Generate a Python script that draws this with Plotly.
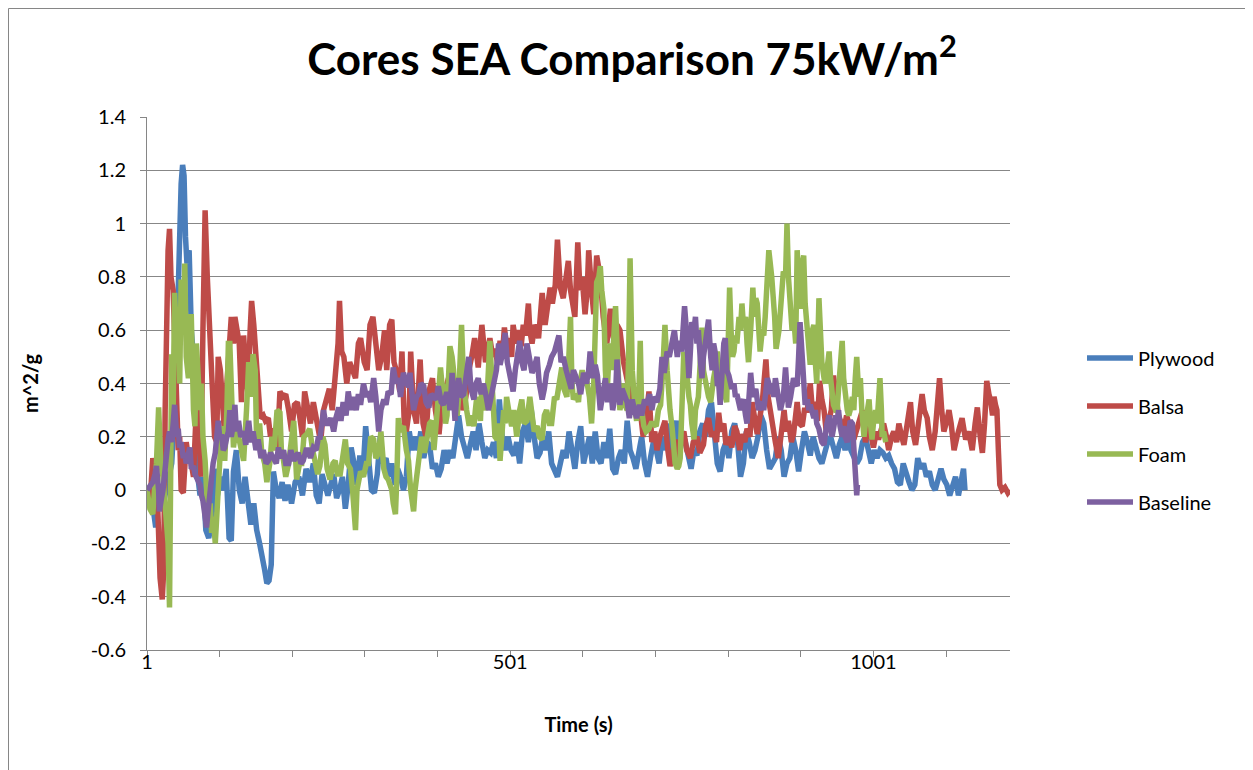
import plotly.graph_objects as go

# ---- data: (time index, SEA value m^2/g) ----
plywood = [(1,0.0),(5,-0.02),(10,-0.08),(13,-0.14),(16,-0.05),(20,0.02),(25,-0.03),(30,0.05),(35,0.1),(40,0.35),(44,0.75),(46,1.05),(48,1.15),(50,1.22),(52,1.18),(54,0.95),(56,0.85),(59,0.9),(62,0.6),(65,0.5),(68,0.2),(71,0.05),(74,-0.02),(78,0.05),(82,-0.15),(86,-0.18),(90,-0.12),(94,0.08),(98,-0.02),(102,0.05),(106,0.0),(110,0.08),(114,-0.18),(117,-0.19),(120,0.07),(124,0.15),(128,0.0),(132,-0.05),(136,0.05),(140,-0.03),(144,-0.13),(148,-0.05),(152,-0.15),(156,-0.2),(160,-0.25),(163,-0.3),(166,-0.35),(169,-0.34),(172,-0.28),(175,0.07),(179,0.0),(183,-0.03),(187,0.03),(191,-0.04),(195,0.02),(200,-0.05),(205,0.03),(210,0.05),(215,-0.02),(220,0.08),(225,0.03),(230,0.1),(234,-0.02),(238,-0.05),(242,0.06),(246,0.02),
(250,-0.02),(254,0.02),(258,0.06),(262,-0.03),(266,0.0),(270,0.05),(274,-0.07),(278,0.02),(282,0.16),(286,0.1),(290,0.02),(294,0.13),(298,0.05),(302,0.24),(306,0.12),(310,0.0),(314,-0.01),(318,0.06),(322,0.2),(326,0.1),(330,0.12),(334,0.05),(338,0.1),(342,0.02),(346,0.08),(350,0.05),(354,0.0),(358,0.05),(362,0.22),
(366,0.15),(370,0.2),(374,0.15),(378,0.22),(382,0.12),(386,0.18),(390,0.17),(394,0.08),(398,0.1),(402,0.05),(406,0.08),(410,0.15),(414,0.1),(418,0.15),(422,0.12),(426,0.2),(430,0.28),(434,0.2),(438,0.15),(442,0.12),(446,0.17),(450,0.22),(454,0.15),(458,0.25),(462,0.18),(466,0.12),(470,0.15),(474,0.14),(478,0.18),(482,0.12),(486,0.34),(490,0.2),(494,0.15),
(498,0.2),(502,0.15),(506,0.13),(510,0.18),(514,0.1),(518,0.22),(522,0.25),(526,0.18),(530,0.3),(534,0.2),(538,0.12),(542,0.14),(546,0.2),(550,0.15),(554,0.22),(558,0.1),(562,0.07),(566,0.05),(570,0.1),(574,0.15),(578,0.12),(582,0.22),(586,0.15),(590,0.08),(594,0.18),(598,0.24),(602,0.1),(606,0.15),(610,0.2),
(614,0.1),(618,0.22),(622,0.12),(626,0.1),(630,0.18),(634,0.12),(638,0.23),(642,0.08),(646,0.06),(650,0.12),(654,0.15),(658,0.1),(662,0.26),(666,0.15),(670,0.12),(674,0.08),(678,0.14),(682,0.2),(686,0.1),(690,0.05),(694,0.12),(698,0.18),(702,0.15),(706,0.1),(710,0.2),(714,0.15),(718,0.25),(722,0.15),(726,0.2),(730,0.26),(734,0.15),
(738,0.22),(742,0.18),(746,0.12),(750,0.08),(754,0.15),(758,0.13),(762,0.22),(766,0.25),(770,0.2),(774,0.3),(778,0.33),(782,0.22),(786,0.1),(790,0.07),(794,0.15),(798,0.18),(802,0.12),(806,0.22),(810,0.25),(814,0.18),(818,0.05),(822,0.1),(826,0.22),(830,0.18),(834,0.12),(838,0.15),(842,0.2),(846,0.28),(850,0.25),(854,0.15),(858,0.08),
(862,0.1),(866,0.12),(870,0.2),(874,0.15),(878,0.05),(882,0.1),(886,0.12),(890,0.2),(894,0.15),(898,0.07),(902,0.15),(906,0.22),(910,0.18),(914,0.13),(918,0.2),(922,0.16),(926,0.12),(930,0.1),(934,0.15),(938,0.18),(942,0.2),(946,0.15),(950,0.12),(954,0.17),(958,0.2),(962,0.15),(966,0.2),(970,0.15),(974,0.12),(978,0.1),
(982,0.12),(986,0.18),(990,0.2),(994,0.15),(998,0.1),(1002,0.15),(1006,0.12),(1010,0.15),(1014,0.14),(1018,0.12),(1022,0.13),(1026,0.1),(1030,0.08),(1034,0.03),(1038,0.02),(1042,0.1),(1046,0.06),(1050,0.03),(1054,0.0),(1058,0.02),(1062,0.12),(1066,0.08),(1070,0.1),(1074,0.05),(1078,0.07),(1082,0.02),(1086,0.0),(1090,0.05),(1094,0.08),(1098,0.04),(1102,0.02),(1106,-0.02),(1110,0.01),(1114,0.05),(1118,-0.02),(1122,0.03),(1125,0.08),(1127,0.0)]

balsa = [(1,0.0),(5,-0.05),(9,0.12),(12,0.05),(14,0.08),(17,-0.2),(19,-0.33),(22,-0.41),(24,-0.3),(26,0.3),(28,0.76),(30,0.9),(32,0.98),(34,0.8),(37,0.75),(39,0.55),(41,0.35),(44,0.15),(46,0.2),(48,0.0),(51,-0.01),(55,0.18),(58,0.12),(62,0.1),(65,0.05),(68,0.25),(72,0.3),(75,0.05),(78,0.6),(81,1.05),(84,0.8),(87,0.61),(90,0.4),(92,0.35),(94,0.2),(97,0.18),(99,0.5),(102,0.45),(104,0.35),(106,0.3),(108,0.2),(111,0.4),(114,0.55),(117,0.65),
(120,0.55),(122,0.65),(125,0.6),(128,0.55),(131,0.33),(134,0.58),(137,0.45),(140,0.36),(143,0.6),(145,0.71),(148,0.62),(151,0.5),(154,0.32),(157,0.27),(161,0.28),(164,0.26),(168,0.27),(171,0.2),(175,0.23),(178,0.15),(181,0.2),(184,0.37),(188,0.35),(192,0.36),(196,0.3),(200,0.22),(204,0.32),(208,0.33),(211,0.28),(215,0.2),(218,0.37),(222,0.3),(226,0.25),(230,0.33),(234,0.27),(237,0.22),
(240,0.18),(244,0.3),(248,0.35),(252,0.38),(256,0.3),(260,0.45),(264,0.55),(266,0.71),(269,0.52),(272,0.5),(276,0.4),(280,0.48),(284,0.45),(288,0.42),(292,0.55),(295,0.57),(300,0.48),(304,0.45),(308,0.62),(312,0.65),(316,0.55),(320,0.45),(324,0.5),(328,0.6),(331,0.45),(335,0.62),(338,0.64),(341,0.48),(345,0.44),(349,0.37),(352,0.52),(355,0.26),(358,0.22),(362,0.3),
(364,0.52),(368,0.3),(372,0.25),(377,0.49),(381,0.25),(385,0.2),(389,0.37),(394,0.42),(398,0.3),(403,0.21),(407,0.33),(411,0.37),(416,0.42),(420,0.35),(426,0.36),(431,0.4),(436,0.3),(440,0.35),(444,0.45),(448,0.5),(452,0.57),(457,0.46),(462,0.62),(467,0.48),(473,0.57),(477,0.5),(480,0.53),(484,0.47),(487,0.56),(490,0.5),(493,0.61),
(497,0.52),(500,0.57),(503,0.5),(505,0.62),(509,0.55),(512,0.6),(516,0.54),(519,0.62),(522,0.58),(526,0.7),(528,0.6),(531,0.55),(535,0.62),(538,0.6),(540,0.57),(545,0.74),(549,0.62),(552,0.68),(556,0.76),(559,0.7),(563,0.77),(566,0.94),(570,0.76),(574,0.72),(577,0.78),(581,0.86),(584,0.75),(586,0.71),(590,0.65),(594,0.93),(597,0.75),(600,0.8),(604,0.66),(607,0.75),(609,0.9),(613,0.75),
(616,0.66),(620,0.88),(625,0.8),(629,0.65),(634,0.55),(639,0.68),(643,0.57),(648,0.62),(652,0.6),(657,0.48),(662,0.42),(666,0.36),(670,0.3),(673,0.33),(677,0.27),(680,0.3),(684,0.2),(687,0.25),(692,0.37),(696,0.18),(700,0.22),(703,0.15),(707,0.2),(710,0.22),(714,0.26),(718,0.15),(721,0.09),(725,0.14),(728,0.19),(731,0.12),(735,0.17),
(740,0.22),(744,0.15),(749,0.12),(753,0.18),(758,0.2),(762,0.14),(767,0.17),(770,0.24),(774,0.27),(778,0.2),(781,0.22),(785,0.18),(788,0.29),(791,0.22),(795,0.25),(798,0.17),(802,0.2),(806,0.16),(810,0.24),(813,0.22),(817,0.15),(820,0.21),(824,0.18),(827,0.23),(831,0.2),(834,0.33),(838,0.25),(841,0.21),(845,0.28),(848,0.33),(853,0.49),(856,0.35),(859,0.3),(863,0.22),(866,0.18),
(870,0.12),(874,0.2),(878,0.3),(881,0.22),(884,0.26),(888,0.18),(891,0.21),(896,0.33),(899,0.25),(903,0.24),(906,0.3),(910,0.3),(914,0.4),(917,0.3),(921,0.33),(924,0.26),(927,0.41),(930,0.34),(933,0.3),(936,0.22),(939,0.26),(943,0.3),(946,0.43),(950,0.32),(953,0.28),(957,0.25),(960,0.22),(964,0.28),(967,0.26),(971,0.22),(974,0.19),(978,0.23),(981,0.26),(986,0.3),
(990,0.18),(995,0.25),(998,0.2),(1001,0.16),(1005,0.22),(1008,0.19),(1012,0.23),(1015,0.25),(1019,0.2),(1022,0.15),(1026,0.2),(1029,0.22),(1033,0.18),(1036,0.25),(1040,0.2),(1043,0.17),(1047,0.24),(1052,0.33),(1055,0.22),(1059,0.17),(1063,0.25),(1068,0.36),(1071,0.3),(1075,0.27),(1078,0.2),(1082,0.15),(1086,0.22),(1089,0.3),(1092,0.42),(1095,0.3),(1098,0.22),(1102,0.26),(1105,0.3),(1108,0.25),(1112,0.15),
(1116,0.2),(1120,0.25),(1123,0.27),(1126,0.22),(1128,0.19),(1132,0.22),(1135,0.18),(1137,0.15),(1141,0.25),(1144,0.31),(1148,0.2),(1151,0.14),(1154,0.25),(1157,0.41),(1160,0.36),(1162,0.34),(1165,0.28),(1167,0.35),(1169,0.32),(1171,0.3),(1173,0.15),(1175,0.02),(1178,0.0),(1182,0.01),(1186,-0.01),(1189,0.0)]

foam = [(1,0.0),(5,-0.07),(9,-0.09),(14,0.1),(17,0.31),(20,0.1),(23,0.05),(28,-0.1),(30,-0.2),(32,-0.44),(35,0.51),(37,0.3),(39,0.74),(42,0.55),(44,0.67),(46,0.4),(48,0.79),(51,0.6),(53,0.85),(55,0.5),(58,0.42),(60,0.65),(62,0.65),(65,0.3),(67,0.24),(69,0.55),(72,0.4),(74,0.3),(76,0.4),(78,0.2),(81,0.11),(83,-0.05),(85,-0.11),(88,-0.05),(90,-0.16),(92,-0.1),(95,-0.2),(97,-0.1),(99,0.05),(101,0.1),(104,0.24),(106,0.15),(108,0.11),(111,0.3),(113,0.55),(115,0.55),(118,0.3),(120,0.16),
(124,0.24),(129,0.17),(134,0.11),(138,0.3),(141,0.48),(144,0.35),(147,0.51),(150,0.45),(152,0.17),(156,0.25),(159,0.14),(163,0.1),(166,0.03),(170,0.1),(173,0.2),(176,0.15),(180,0.3),(184,0.29),(186,0.15),(189,0.11),(192,0.05),(196,0.1),(199,0.18),(203,0.26),(207,0.04),(211,0.1),(214,0.1),(217,0.2),(221,0.21),(225,0.23),(229,0.15),(232,0.11),(236,0.06),(239,0.09),(243,0.2),(246,0.17),
(249,0.08),(253,0.04),(257,0.1),(260,0.11),(263,0.06),(267,0.06),(271,0.12),(274,0.19),(277,0.1),(281,0.08),(284,0.0),(288,-0.15),(290,0.0),(292,0.03),(295,0.07),(299,0.05),(303,0.1),(306,0.1),(309,0.2),(313,0.19),(316,0.12),(320,0.14),(323,0.22),(327,0.08),(330,0.05),(333,0.04),(338,0.0),(340,-0.05),(343,-0.09),(345,0.05),(347,0.27),(350,0.22),(354,0.24),(358,0.15),(361,0.11),(364,0.0),(368,-0.08),
(370,0.0),(372,0.05),(376,0.15),(379,0.2),(383,0.14),(386,0.19),(390,0.25),(393,0.26),(396,0.15),(400,0.28),(402,0.35),(405,0.46),(407,0.4),(409,0.39),(412,0.25),(414,0.28),(416,0.42),(418,0.54),(421,0.5),(423,0.45),(425,0.3),(428,0.28),(430,0.35),(432,0.5),(434,0.62),(437,0.4),(439,0.34),(441,0.3),(444,0.25),(446,0.25),(448,0.28),(451,0.24),(453,0.3),(455,0.35),(457,0.32),(460,0.26),(462,0.4),(464,0.33),(467,0.3),(469,0.34),(471,0.45),(473,0.56),(476,0.4),(478,0.28),(480,0.2),(483,0.19),(485,0.25),(487,0.11),
(490,0.2),(492,0.3),(494,0.25),(496,0.35),(500,0.28),(503,0.24),(506,0.3),(510,0.2),(514,0.3),(517,0.34),(520,0.25),(524,0.26),(528,0.35),(531,0.3),(534,0.22),(538,0.24),(541,0.2),(545,0.19),(548,0.28),(551,0.3),(555,0.25),(558,0.25),(562,0.35),(565,0.34),(569,0.42),(572,0.46),(575,0.38),(579,0.35),(581,0.45),(584,0.65),(586,0.4),(588,0.34),(592,0.36),(595,0.33),(597,0.4),(600,0.45),(603,0.4),(607,0.4),(610,0.35),(613,0.25),
(616,0.4),(618,0.6),(620,0.78),(623,0.8),(625,0.84),(627,0.75),(630,0.68),(632,0.45),(634,0.35),(636,0.45),(639,0.55),(641,0.45),(643,0.55),(646,0.69),(648,0.55),(650,0.33),(652,0.3),(655,0.35),(657,0.4),(659,0.32),(662,0.3),(664,0.5),(666,0.87),(669,0.45),(671,0.33),(673,0.3),(675,0.26),(678,0.35),(680,0.56),(682,0.3),(685,0.24),(688,0.22),(692,0.23),(695,0.25),(698,0.25),(702,0.24),(705,0.3),(708,0.32),(711,0.45),(714,0.62),(717,0.45),(719,0.36),(721,0.3),(724,0.23),(726,0.15),(728,0.1),(731,0.08),(733,0.09),(735,0.12),
(738,0.3),(740,0.52),(742,0.4),(744,0.44),(747,0.35),(749,0.32),(751,0.25),(754,0.19),(756,0.3),(758,0.32),(760,0.35),(763,0.5),(765,0.61),(767,0.45),(770,0.4),(772,0.37),(774,0.35),(777,0.33),(779,0.4),(781,0.42),(783,0.45),(786,0.52),(788,0.45),(790,0.42),(793,0.48),(795,0.4),(797,0.35),(799,0.33),(802,0.55),(803,0.76),(805,0.6),(807,0.5),(809,0.52),(811,0.58),(813,0.55),(816,0.65),(818,0.6),(820,0.7),(822,0.62),(825,0.65),(827,0.55),(829,0.48),(832,0.6),(834,0.68),(835,0.76),(837,0.65),(839,0.72),(841,0.7),(843,0.6),(845,0.52),(848,0.6),(850,0.58),(852,0.65),(855,0.8),(857,0.9),(859,0.85),
(861,0.8),(865,0.65),(867,0.53),(871,0.6),(873,0.7),(875,0.78),(877,0.82),(880,0.8),(882,1.0),(884,0.8),(887,0.7),(889,0.6),(891,0.66),(894,0.55),(896,0.9),(898,0.75),(900,0.68),(903,0.85),(905,0.88),(907,0.7),(910,0.62),(912,0.55),(914,0.47),(917,0.6),(919,0.62),(921,0.48),(923,0.4),(926,0.72),(928,0.5),(930,0.48),(933,0.42),(935,0.4),(937,0.45),(940,0.52),(942,0.42),(944,0.35),(946,0.32),(949,0.3),(951,0.3),(953,0.38),(955,0.45),(958,0.56),(960,0.42),(962,0.36),(965,0.3),(967,0.28),(969,0.3),(972,0.35),(974,0.3),(976,0.42),(978,0.5),(981,0.35),(983,0.42),
(985,0.3),(988,0.2),(990,0.25),(992,0.3),(995,0.34),(997,0.25),(999,0.19),(1001,0.25),(1004,0.3),(1006,0.25),(1008,0.35),(1010,0.42),(1012,0.3),(1013,0.2),(1015,0.22),(1018,0.18)]

baseline = [(1,0.0),(5,0.02),(9,0.03),(12,0.06),(14,0.09),(17,0.0),(18,-0.08),(21,-0.03),(23,0.0),(26,0.08),(28,0.15),(30,0.19),(32,0.22),(35,0.18),(37,0.25),(39,0.32),(42,0.2),(44,0.23),(46,0.16),(48,0.18),(51,0.12),(53,0.14),(55,0.1),(58,0.13),(60,0.16),(62,0.08),(65,0.09),(67,0.06),(69,0.05),(72,0.04),(74,0.02),(76,-0.02),(78,-0.04),(81,-0.1),(83,-0.14),(85,-0.08),(88,0.01),(90,0.05),(92,0.1),(95,0.14),(97,0.2),(99,0.26),(101,0.2),(104,0.2),(106,0.15),(108,0.16),(111,0.2),(113,0.22),(115,0.3),(117,0.2),
(120,0.25),(122,0.32),(124,0.22),(127,0.26),(130,0.2),(134,0.22),(137,0.17),(141,0.26),(144,0.18),(147,0.22),(151,0.15),(154,0.19),(158,0.12),(161,0.15),(165,0.1),(168,0.11),(171,0.14),(175,0.12),(179,0.1),(182,0.16),(185,0.12),(189,0.15),(192,0.1),(196,0.1),(199,0.15),(203,0.11),(206,0.13),(209,0.14),(213,0.1),(216,0.11),(220,0.15),(223,0.15),(226,0.12),(230,0.16),(234,0.15),(237,0.2),(239,0.19),
(242,0.25),(244,0.3),(247,0.25),(251,0.25),(254,0.27),(258,0.22),(261,0.27),(265,0.31),(268,0.26),(271,0.33),(275,0.28),(278,0.37),(282,0.3),(285,0.35),(289,0.3),(292,0.36),(295,0.32),(299,0.4),(303,0.35),(306,0.37),(309,0.33),(313,0.42),(316,0.35),(320,0.22),(323,0.3),(327,0.34),(330,0.32),(333,0.37),(337,0.36),(340,0.46),(344,0.4),(347,0.42),(350,0.35),(354,0.44),(358,0.4),(361,0.39),(363,0.44),
(366,0.35),(368,0.3),(372,0.35),(375,0.36),(378,0.4),(382,0.39),(385,0.33),(389,0.31),(392,0.36),(395,0.35),(399,0.34),(402,0.39),(406,0.33),(409,0.32),(413,0.36),(416,0.36),(418,0.3),(421,0.44),(423,0.35),(425,0.26),(428,0.38),(430,0.42),(433,0.35),(437,0.36),(440,0.42),(444,0.5),(447,0.38),(451,0.34),(454,0.4),(457,0.42),(461,0.36),(464,0.4),(468,0.35),(471,0.3),(474,0.34),(478,0.4),(482,0.45),(485,0.55),(487,0.47),
(491,0.52),(494,0.59),(497,0.48),(501,0.42),(505,0.37),(508,0.45),(511,0.5),(514,0.56),(517,0.48),(520,0.45),(524,0.55),(528,0.48),(531,0.44),(534,0.46),(538,0.5),(541,0.4),(545,0.34),(548,0.38),(551,0.44),(555,0.47),(558,0.5),(562,0.52),(565,0.55),(568,0.58),(571,0.48),(574,0.5),(578,0.45),(581,0.42),(585,0.38),(588,0.45),(592,0.42),(595,0.4),(598,0.36),(602,0.44),(606,0.4),(609,0.45),(611,0.52),
(615,0.42),(618,0.47),(621,0.43),(625,0.3),(629,0.38),(632,0.42),(635,0.33),(639,0.4),(642,0.3),(646,0.36),(648,0.49),(652,0.32),(655,0.38),(658,0.36),(662,0.33),(665,0.27),(669,0.34),(672,0.3),(675,0.27),(679,0.32),(682,0.28),(686,0.34),(689,0.32),(693,0.36),(696,0.3),(699,0.35),(703,0.33),(707,0.38),(710,0.5),(713,0.44),(717,0.52),(720,0.5),(724,0.55),(727,0.6),(731,0.5),(734,0.56),(737,0.52),(741,0.69),
(743,0.62),(745,0.48),(747,0.42),(749,0.52),(751,0.63),(754,0.6),(756,0.65),(758,0.55),(760,0.6),(763,0.48),(765,0.42),(767,0.5),(770,0.55),(772,0.58),(774,0.64),(777,0.5),(779,0.45),(781,0.55),(783,0.52),(786,0.4),(788,0.4),(790,0.32),(793,0.48),(795,0.55),(797,0.57),(799,0.45),(802,0.43),(804,0.4),(806,0.38),(809,0.4),(811,0.35),(813,0.36),(816,0.32),(818,0.3),(820,0.33),(822,0.34),(825,0.28),(827,0.25),(829,0.32),(832,0.44),(834,0.38),(836,0.35),(839,0.38),(841,0.32),(843,0.3),(845,0.32),(848,0.33),(850,0.3),(852,0.36),(855,0.42),(857,0.4),(859,0.36),
(861,0.4),(864,0.35),(866,0.42),(869,0.36),(873,0.3),(877,0.35),(880,0.46),(882,0.38),(884,0.31),(887,0.35),(889,0.38),(891,0.42),(894,0.4),(896,0.39),(898,0.5),(900,0.63),(903,0.5),(905,0.35),(907,0.32),(910,0.34),(912,0.3),(914,0.32),(917,0.28),(919,0.27),(921,0.3),(923,0.25),(926,0.23),(928,0.2),(930,0.18),(933,0.17),(935,0.22),(937,0.25),(940,0.28),(942,0.22),(944,0.2),(946,0.23),(949,0.28),(951,0.25),(953,0.3),(955,0.24),(958,0.2),(960,0.24),(962,0.2),(965,0.18),(967,0.21),(969,0.26),(972,0.25),(974,0.15),(976,0.1),(977,0.0),(978,-0.02),(979,0.02)]

series_names = ["Plywood", "Balsa", "Foam", "Baseline"]
series_colors = ["#4A7EBB", "#BE4B48", "#98B954", "#7D60A0"]
y_ticks = [1.4, 1.2, 1.0, 0.8, 0.6, 0.4, 0.2, 0.0, -0.2, -0.4, -0.6]
y_tick_text = ["1.4", "1.2", "1", "0.8", "0.6", "0.4", "0.2", "0", "-0.2", "-0.4", "-0.6"]
x_tick_vals = [1, 501, 1001]
x_tick_text = ["1", "501", "1001"]

FONT = "Lato"
fig = go.Figure()
for name, color, data in zip(series_names, series_colors, [plywood, balsa, foam, baseline]):
    xs = [p[0] for p in data]
    ys = [p[1] for p in data]
    fig.add_trace(go.Scatter(x=xs, y=ys, mode="lines", name=name, legendgroup=name,
                             line=dict(color=color, width=5.5)))

# the page body adds an 8px margin; target positions are in page pixels
OFF = 8
W, H = 1253, 770
L, R, T, B = 147 - OFF, 1010 - OFF, 117 - OFF, 650 - OFF
pw, ph = R - L, B - T
fig.update_layout(
    width=W, height=H,
    margin=dict(l=L, r=W - R, t=T, b=H - B, autoexpand=False),
    paper_bgcolor="white", plot_bgcolor="white",
    font=dict(family=FONT, color="black", size=18),
    title=dict(text="<b>Cores SEA Comparison 75kW/m<sup>2</sup></b>",
               x=(632 - OFF) / W, xanchor="center", y=1 - (60 - OFF) / H, yanchor="middle",
               font=dict(size=44, family=FONT, color="black")),
    showlegend=True,
    legend=dict(x=(1082 - OFF - L) / pw, xanchor="left", y=(B - (430 - OFF)) / ph, yanchor="middle",
                font=dict(size=20, family=FONT, color="black"),
                tracegroupgap=19, itemwidth=46, bgcolor="rgba(0,0,0,0)"),
    shapes=[dict(type="rect", xref="paper", yref="paper",
                 x0=(0.5 - L) / pw, x1=(1238 - L) / pw, y0=(B - 800) / ph, y1=(B - 0.5) / ph,
                 line=dict(color="#868686", width=1), fillcolor="rgba(0,0,0,0)", layer="below")],
)
fig.update_xaxes(range=[1, 1189], tickmode="array", tickvals=x_tick_vals, ticktext=x_tick_text,
                 showgrid=False, zeroline=False, showline=True, linecolor="#868686", linewidth=1,
                 ticks="outside", ticklen=6, tickcolor="#868686", ticklabelstandoff=-12,
                 minor=dict(tick0=1, dtick=100, ticks="outside", ticklen=6, tickcolor="#868686", showgrid=False),
                 tickfont=dict(size=20, family=FONT, color="black"),
                 title=dict(text="<b>Time (s)</b>", font=dict(size=20, family=FONT, color="black"), standoff=45))
fig.update_yaxes(range=[-0.6, 1.4], tickmode="array", tickvals=y_ticks, ticktext=y_tick_text,
                 showgrid=True, gridcolor="#878787", gridwidth=1.2, zeroline=False,
                 showline=True, linecolor="#868686", linewidth=1,
                 ticks="outside", ticklen=6, tickcolor="#868686", ticklabelstandoff=10,
                 tickfont=dict(size=20, family=FONT, color="black"),
                 title=dict(text="<b>m^2/g</b>", font=dict(size=20, family=FONT, color="black"), standoff=46))

fig.write_html("out.html")
